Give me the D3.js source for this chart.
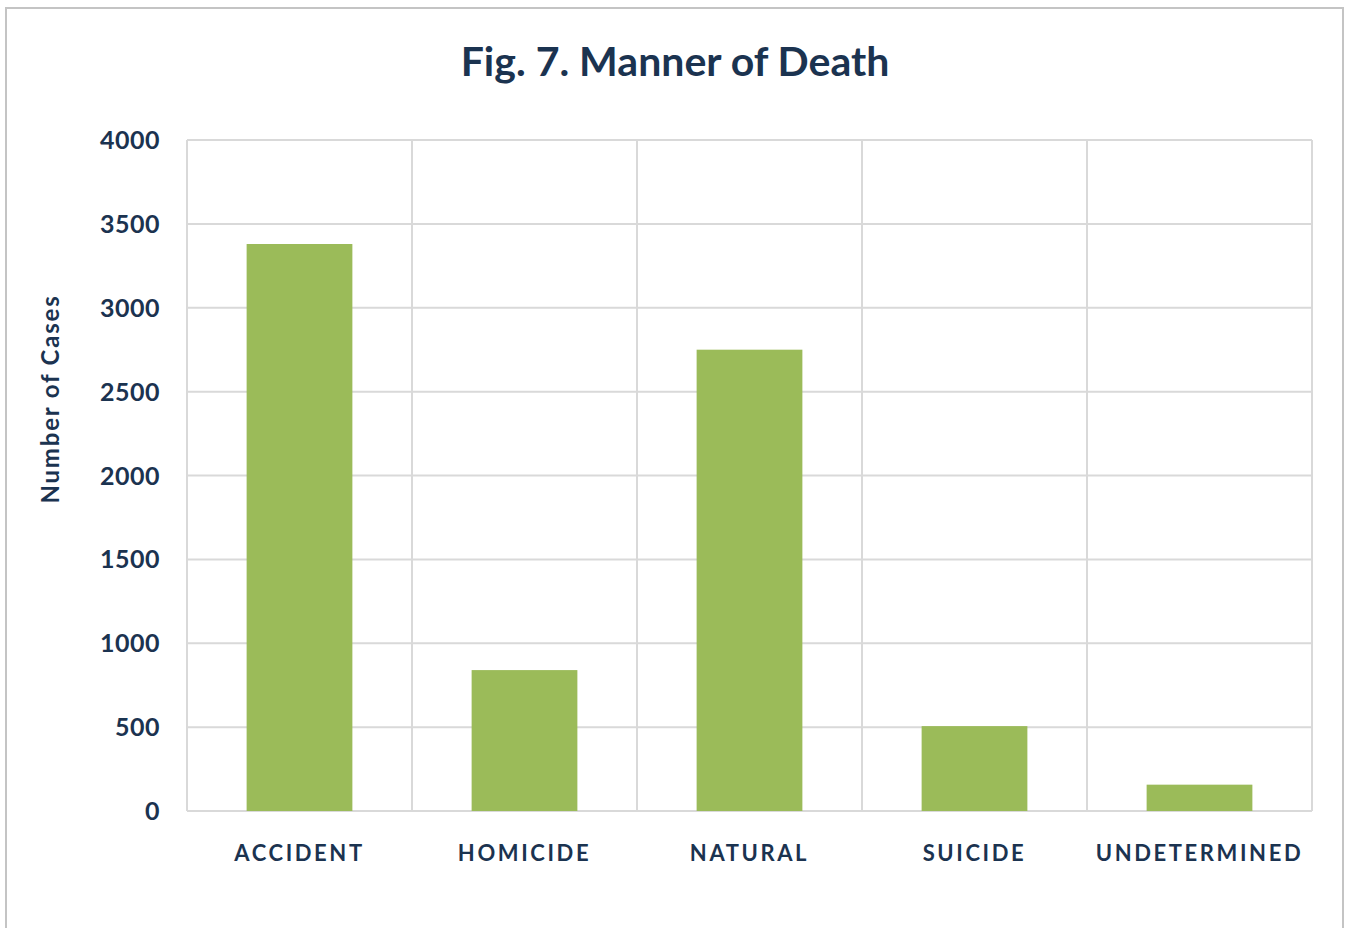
<!DOCTYPE html>
<html>
<head>
<meta charset="utf-8">
<script src="https://cdn.jsdelivr.net/npm/d3@7"></script>
<style>
  body { margin: 0; background: #fff; }
  text { font-family: Lato, "Open Sans", sans-serif; fill: #1b3350; }
</style>
</head>
<body>
<svg></svg>
<script>
var width = 1346;
var height = 928;

var categories = ["ACCIDENT", "HOMICIDE", "NATURAL", "SUICIDE", "UNDETERMINED"];
var cases = [3380, 840, 2750, 506, 157];
var yTicks = [0, 500, 1000, 1500, 2000, 2500, 3000, 3500, 4000];

var margin = {left: 187, right: 34, top: 140, bottom: 117};

var svg = d3.select("svg")
            .attr("width", width)
            .attr("height", height);

// outer chart frame
svg.append("rect")
    .attr("x", 6)
    .attr("y", 8)
    .attr("width", 1337)
    .attr("height", 940)
    .attr("fill", "#fff")
    .attr("stroke", "#c4c4c4")
    .attr("stroke-width", 2);

var x = d3.scaleBand()
          .domain(categories)
          .range([margin.left, width - margin.right])
          .paddingInner(0.53)
          .paddingOuter(0.265);

var y = d3.scaleLinear()
          .domain([0, 4000])
          .range([height - margin.bottom, margin.top]);

// horizontal gridlines
svg.append("g")
    .selectAll("line")
    .data(yTicks)
    .enter()
    .append("line")
        .attr("x1", margin.left)
        .attr("x2", width - margin.right)
        .attr("y1", d => y(d))
        .attr("y2", d => y(d))
        .attr("stroke", "#d9d9d9")
        .attr("stroke-width", 2);

// vertical category dividers
var edges = d3.range(categories.length + 1).map(i => margin.left + i * (width - margin.left - margin.right) / categories.length);
svg.append("g")
    .selectAll("line")
    .data(edges)
    .enter()
    .append("line")
        .attr("x1", d => d)
        .attr("x2", d => d)
        .attr("y1", y(4000))
        .attr("y2", y(0))
        .attr("stroke", "#d9d9d9")
        .attr("stroke-width", 2);

// bars
svg.append("g")
    .selectAll("rect")
    .data(categories)
    .enter()
    .append("rect")
        .attr("x", d => x(d))
        .attr("width", x.bandwidth())
        .attr("y", (d, i) => y(cases[i]))
        .attr("height", (d, i) => y(0) - y(cases[i]))
        .attr("fill", "#9bbb59");

// y axis labels
svg.append("g")
    .selectAll("text")
    .data(yTicks)
    .enter()
    .append("text")
        .attr("x", 160)
        .attr("y", d => y(d))
        .attr("dy", "0.36em")
        .attr("text-anchor", "end")
        .style("font-size", "25px")
        .style("font-weight", "bold")
        .style("letter-spacing", "0.5px")
        .text(d => d);

// x axis labels
svg.append("g")
    .selectAll("text")
    .data(categories)
    .enter()
    .append("text")
        .attr("x", d => x(d) + x.bandwidth() / 2)
        .attr("y", 861)
        .attr("text-anchor", "middle")
        .style("font-size", "22px")
        .style("font-weight", "bold")
        .style("letter-spacing", "2.6px")
        .text(d => d);

// axis title
svg.append("text")
    .attr("transform", "translate(59, 399) rotate(-90)")
    .attr("text-anchor", "middle")
    .style("font-size", "24px")
    .style("font-weight", "bold")
    .style("letter-spacing", "1.8px")
    .text("Number of Cases");

// chart title
svg.append("text")
    .attr("x", 675)
    .attr("y", 76)
    .attr("text-anchor", "middle")
    .style("font-size", "41px")
    .style("font-weight", "bold")
    .text("Fig. 7. Manner of Death");
</script>
</body>
</html>
